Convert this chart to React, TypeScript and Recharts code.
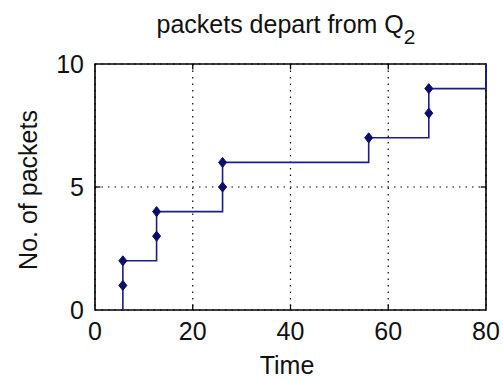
import { CartesianGrid, Line, LineChart, ReferenceArea, ReferenceLine, XAxis, YAxis } from 'recharts';

const times = [5.7, 5.7, 5.7, 12.6, 12.6, 26.1, 26.1, 56, 68.3, 68.3, 80];
const counts = [0, 1, 2, 3, 4, 5, 6, 7, 8, 9, 10];
const xTicks = [0, 20, 40, 60, 80];
const yTicks = [0, 5, 10];

const data = times.map((t, i) => ({ t, n: counts[i] }));

const font = '"Liberation Sans", Arial, sans-serif';
const tickStyle = { fontSize: 25, fill: '#111', fontFamily: font };

function Diamond(props: any) {
  const { cx, cy, index } = props;
  if (index === 0 || index === data.length - 1 || cx == null) return <g key={`d${index}`} />;
  return (
    <polygon
      key={`d${index}`}
      points={`${cx},${cy - 5} ${cx + 4},${cy} ${cx},${cy + 5} ${cx - 4},${cy}`}
      fill="#0d0d6b"
      stroke="#0d0d6b"
    />
  );
}

// inward tick marks on all four sides (matlab style)
const innerX = xTicks.slice(1, -1);
const innerY = yTicks.slice(1, -1);

export default function App() {
  return (
    <div style={{ position: 'absolute', left: 0, top: 0, width: 503, height: 379, background: '#fff' }}>
      <LineChart width={503} height={379} data={data} margin={{ top: 64, right: 17, bottom: 0, left: 0 }}>
        <CartesianGrid stroke="#000" strokeDasharray="1.5 5" strokeWidth={1.2} />
        <XAxis
          dataKey="t"
          type="number"
          domain={[0, 80]}
          ticks={xTicks}
          height={69}
          tickSize={0}
          tickMargin={12}
          tick={tickStyle}
          axisLine={false}
          tickLine={false}
        />
        <YAxis
          type="number"
          domain={[0, 10]}
          ticks={yTicks}
          width={95}
          tickSize={0}
          tickMargin={11}
          tick={tickStyle}
          axisLine={false}
          tickLine={false}
        />
        {innerX.map((x) => (
          <ReferenceLine key={`xb${x}`} segment={[{ x, y: 0 }, { x, y: 0.22 }]} stroke="#000" strokeWidth={1.3} />
        ))}
        {innerX.map((x) => (
          <ReferenceLine key={`xt${x}`} segment={[{ x, y: 10 }, { x, y: 9.78 }]} stroke="#000" strokeWidth={1.3} />
        ))}
        {innerY.map((y) => (
          <ReferenceLine key={`yl${y}`} segment={[{ x: 0, y }, { x: 1.1, y }]} stroke="#000" strokeWidth={1.3} />
        ))}
        {innerY.map((y) => (
          <ReferenceLine key={`yr${y}`} segment={[{ x: 80, y }, { x: 78.9, y }]} stroke="#000" strokeWidth={1.3} />
        ))}
        <ReferenceArea x1={0} x2={80} y1={0} y2={10} fill="none" fillOpacity={0} stroke="#000" strokeWidth={1.6} />
        <Line
          type="stepAfter"
          dataKey="n"
          stroke="#1c1c8c"
          strokeWidth={1.6}
          dot={Diamond}
          activeDot={false}
          isAnimationActive={false}
        />
      </LineChart>
      <svg
        width={503}
        height={379}
        style={{ position: 'absolute', left: 0, top: 0, pointerEvents: 'none' }}
        fontFamily={font}
        fill="#111"
      >
        <text x={286} y={33} fontSize={25} textAnchor="middle">
          packets depart from Q
          <tspan fontSize={21} dy={11}>2</tspan>
        </text>
        <text x={287} y={374} fontSize={25} textAnchor="middle">
          Time
        </text>
        <text transform="translate(37,190) rotate(-90)" fontSize={25} textAnchor="middle">
          No. of packets
        </text>
      </svg>
    </div>
  );
}
